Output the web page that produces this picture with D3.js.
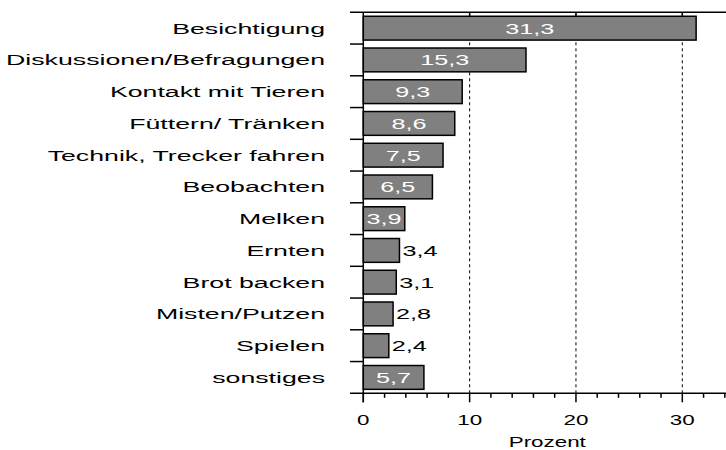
<!DOCTYPE html>
<html>
<head>
<meta charset="utf-8">
<script src="https://cdn.jsdelivr.net/npm/d3@7"></script>
<style>
  body { margin: 0; background: #fff; }
  text { font-family: "Liberation Sans", Arial, sans-serif; }
</style>
</head>
<body>
<div id="chart"></div>
<script>
// data
const categories = ["Besichtigung", "Diskussionen/Befragungen", "Kontakt mit Tieren",
    "Füttern/ Tränken", "Technik, Trecker fahren", "Beobachten", "Melken", "Ernten",
    "Brot backen", "Misten/Putzen", "Spielen", "sonstiges"];
const values = [31.3, 15.3, 9.3, 8.6, 7.5, 6.5, 3.9, 3.4, 3.1, 2.8, 2.4, 5.7];
const majorTicks = [0, 10, 20, 30];
const minorTicks = [2, 4, 6, 8, 12, 14, 16, 18, 22, 24, 26, 28, 32, 34];
const xTitle = "Prozent";

const width = 726, height = 450;
// the original type is drawn wide
const stretchTick = 1.6, stretchLabel = 1.78, stretchValue = 1.8;

let data = categories.map(function(c, i) { return {name: c, value: values[i]}; });

let svg = d3.select("#chart")
    .append("svg")
    .attr("width", width)
    .attr("height", height);

let x = d3.scaleLinear()
    .domain([0, 30])
    .range([363.3, 682.3]);

let y = d3.scaleBand()
    .domain(categories)
    .range([12.3, 393.3])
    .paddingInner(0.25)
    .paddingOuter(0.125);

let yTop = y.range()[0], yBottom = y.range()[1];
let fmt = function(v) { return d3.format(".1f")(v).replace(".", ","); };

// dashed gridlines
svg.append("g").selectAll("line")
    .data(majorTicks.slice(1))
    .enter()
    .append("line")
    .attr("x1", function(d) { return x(d); })
    .attr("x2", function(d) { return x(d); })
    .attr("y1", yTop)
    .attr("y2", yBottom)
    .attr("stroke", "#000")
    .attr("stroke-width", 1)
    .attr("stroke-dasharray", "3,3");

// top and bottom frame lines run past the plot on both sides
[yTop, yBottom].forEach(function(yy) {
    svg.append("line")
        .attr("x1", x(-1.25)).attr("x2", width)
        .attr("y1", yy).attr("y2", yy)
        .attr("stroke", "#000").attr("stroke-width", 1.5);
});

// y axis line + ticks between categories
svg.append("line")
    .attr("x1", x(0)).attr("x2", x(0))
    .attr("y1", yTop).attr("y2", yBottom + 9)
    .attr("stroke", "#000").attr("stroke-width", 1.5);

svg.append("g").selectAll("line")
    .data(categories.slice(1))
    .enter()
    .append("line")
    .attr("x1", x(-1.25))
    .attr("x2", x(0))
    .attr("y1", function(d) { return y(d) - y.step() * y.paddingInner() / 2; })
    .attr("y2", function(d) { return y(d) - y.step() * y.paddingInner() / 2; })
    .attr("stroke", "#000").attr("stroke-width", 1.5);

// bottom axis ticks
svg.append("g").selectAll("line")
    .data(majorTicks)
    .enter()
    .append("line")
    .attr("x1", function(d) { return x(d); })
    .attr("x2", function(d) { return x(d); })
    .attr("y1", yBottom).attr("y2", yBottom + 9)
    .attr("stroke", "#000").attr("stroke-width", 1.5);

svg.append("g").selectAll("line")
    .data(minorTicks)
    .enter()
    .append("line")
    .attr("x1", function(d) { return x(d); })
    .attr("x2", function(d) { return x(d); })
    .attr("y1", yBottom).attr("y2", yBottom + 4.5)
    .attr("stroke", "#000").attr("stroke-width", 1.5);

// short ticks on the top line
svg.append("g").selectAll("line")
    .data(majorTicks.slice(1))
    .enter()
    .append("line")
    .attr("x1", function(d) { return x(d); })
    .attr("x2", function(d) { return x(d); })
    .attr("y1", yTop).attr("y2", yTop + 4)
    .attr("stroke", "#000").attr("stroke-width", 1.5);

// tick labels
svg.append("g").selectAll("text")
    .data(majorTicks)
    .enter()
    .append("text")
    .attr("transform", function(d) { return `translate(${x(d)}, ${yBottom + 31.7}) scale(${stretchTick},1)`; })
    .style("text-anchor", "middle")
    .style("font-size", "14px")
    .text(function(d) { return d; });

// x title
svg.append("text")
    .attr("transform", `translate(${x(17.3)}, ${yBottom + 53.5}) scale(${stretchTick},1)`)
    .style("text-anchor", "middle")
    .style("font-size", "14px")
    .text(xTitle);

// bars
svg.append("g").selectAll("rect")
    .data(data)
    .enter()
    .append("rect")
    .attr("x", x(0))
    .attr("y", function(d) { return y(d.name); })
    .attr("width", function(d) { return x(d.value) - x(0); })
    .attr("height", y.bandwidth())
    .attr("fill", "#808080")
    .attr("stroke", "#000")
    .attr("stroke-width", 1.5);

// category labels
svg.append("g").selectAll("text")
    .data(data)
    .enter()
    .append("text")
    .attr("transform", function(d) {
        return `translate(325, ${y(d.name) + y.bandwidth() / 2 + 5.5}) scale(${stretchLabel},1)`;
    })
    .style("text-anchor", "end")
    .style("font-size", "15px")
    .text(function(d) { return d.name; });

// value labels: white inside long bars, black beside short ones
svg.append("g").selectAll("text")
    .data(data)
    .enter()
    .append("text")
    .attr("transform", function(d) {
        let inside = d.value >= 3.8;
        let tx = inside ? (x(0) + x(d.value)) / 2 : x(d.value) + 3;
        return `translate(${tx}, ${y(d.name) + y.bandwidth() / 2 + 5.5}) scale(${stretchValue},1)`;
    })
    .style("text-anchor", function(d) { return d.value >= 3.8 ? "middle" : "start"; })
    .style("font-size", "14px")
    .attr("fill", function(d) { return d.value >= 3.8 ? "#fff" : "#000"; })
    .text(function(d) { return fmt(d.value); });
</script>
</body>
</html>
